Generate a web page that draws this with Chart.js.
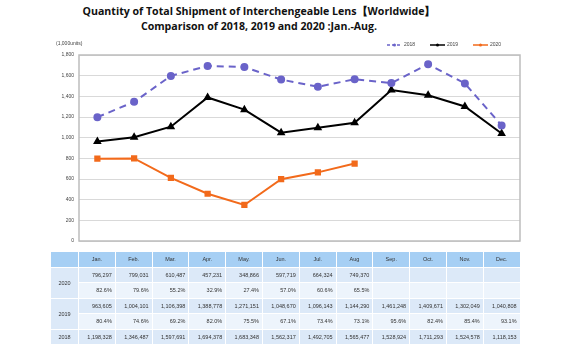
<!DOCTYPE html>
<html>
<head>
<meta charset="utf-8">
<script src="https://cdn.jsdelivr.net/npm/chart.js@4.4.0/dist/chart.umd.min.js"></script>
<style>
  body { margin: 0; background: #fff; width: 573px; height: 353px; overflow: hidden; position: relative; font-family: "Liberation Sans", Arial, sans-serif; }
  #title { position: absolute; top: 4px; left: 0; width: 518px; text-align: center; font-family: "Open Sans", sans-serif; font-weight: bold; font-size: 10.6px; line-height: 15px; color: #111; }
  #wrap { position: absolute; left: 0; top: 0; width: 573px; height: 252px; }
  #tbl { position: absolute; left: 50px; top: 251px; border-collapse: collapse; font-size: 5.5px; color: #333; table-layout: fixed; }
  #tbl td, #tbl th { border: 1px solid #fff; padding: 0 3px; height: 14.5px; font-weight: normal; }
  #tbl th { background: #a6cff4; text-align: center; }
  #tbl td { text-align: right; }
  #tbl td.yr { text-align: center; background: #dce9f8; }
  #tbl tr.v td { background: #dce9f8; }
  #tbl tr.p td { background: #edf4fc; }
</style>
</head>
<body>
<div id="title">Quantity of Total Shipment of Interchengeable Lens【Worldwide】<br>Comparison of 2018, 2019 and 2020 :Jan.-Aug.</div>
<div id="wrap"><canvas id="chart"></canvas></div>
<table id="tbl"></table>
<script>
const months = ['Jan.', 'Feb.', 'Mar.', 'Apr.', 'May.', 'Jun.', 'Jul.', 'Aug', 'Sep.', 'Oct.', 'Nov.', 'Dec.'];
const units2018 = [1198328, 1346487, 1597691, 1694378, 1683348, 1562317, 1492705, 1565477, 1528924, 1711293, 1524578, 1118153];
const units2019 = [963605, 1004101, 1106398, 1388778, 1271151, 1048670, 1096143, 1144290, 1461248, 1409671, 1302049, 1040808];
const units2020 = [796297, 799031, 610487, 457231, 348866, 597719, 664324, 749370];
const ratio2019 = ['80.4%', '74.6%', '69.2%', '82.0%', '75.5%', '67.1%', '73.4%', '73.1%', '95.6%', '82.4%', '85.4%', '93.1%'];
const ratio2020 = ['82.6%', '79.6%', '55.2%', '32.9%', '27.4%', '57.0%', '60.6%', '65.5%'];
const yTicks = [0, 200, 400, 600, 800, 1000, 1200, 1400, 1600, 1800];

const toK = (arr) => arr.map((v) => v / 1000);
const fmt = (v) => v.toLocaleString('en-US');

// table under the chart
const tbl = document.getElementById('tbl');
let html = '<colgroup><col style="width:28px">' + months.map(() => '<col style="width:36.8px">').join('') + '</colgroup>';
html += '<tr><th></th>' + months.map((m) => `<th>${m}</th>`).join('') + '</tr>';
const cells = (arr) => months.map((m, i) => `<td>${arr[i] !== undefined ? (typeof arr[i] === 'number' ? fmt(arr[i]) : arr[i]) : ''}</td>`).join('');
html += `<tr class="v"><td class="yr" rowspan="2">2020</td>${cells(units2020)}</tr>`;
html += `<tr class="p">${cells(ratio2020)}</tr>`;
html += `<tr class="v"><td class="yr" rowspan="2">2019</td>${cells(units2019)}</tr>`;
html += `<tr class="p">${cells(ratio2019)}</tr>`;
html += `<tr class="v"><td class="yr">2018</td>${cells(units2018)}</tr>`;
tbl.innerHTML = html;

const boxPlugin = {
  id: 'plotBox',
  afterDatasetsDraw(chart) {
    const { ctx, chartArea: a } = chart;
    ctx.save();
    ctx.strokeStyle = '#bdbdbd';
    ctx.lineWidth = 1.5;
    ctx.strokeRect(a.left, a.top, a.right - a.left, a.bottom - a.top);
    ctx.restore();
  },
  afterDraw(chart) {
    const { ctx } = chart;
    ctx.save();
    ctx.font = '5px "Liberation Sans", Arial';
    ctx.fillStyle = '#444';
    ctx.textBaseline = 'middle';
    ctx.fillText('(1,000units)', 56, 44);
    // legend: line with marker, like the source
    const slots = [387, 430, 473];
    chart.data.datasets.forEach((ds, i) => {
      const x = slots[i];
      const y = 45;
      ctx.strokeStyle = ds.borderColor;
      ctx.lineWidth = 1.5;
      ctx.setLineDash(ds.borderDash ? [3, 2] : []);
      ctx.beginPath();
      ctx.moveTo(x, y);
      ctx.lineTo(x + 15, y);
      ctx.stroke();
      ctx.setLineDash([]);
      ctx.fillStyle = ds.borderColor;
      ctx.beginPath();
      ctx.arc(x + 7.5, y, 1.5, 0, Math.PI * 2);
      ctx.fill();
      ctx.fillStyle = '#444';
      ctx.fillText(ds.label, x + 17, y);
    });
    ctx.restore();
  },
};

new Chart(document.getElementById('chart'), {
  type: 'line',
  plugins: [boxPlugin],
  data: {
    labels: months,
    datasets: [
      {
        label: '2018',
        data: toK(units2018),
        borderColor: '#6a63c9',
        backgroundColor: '#6a63c9',
        borderDash: [7, 5],
        borderWidth: 2,
        pointStyle: 'circle',
        pointRadius: 3,
        tension: 0,
      },
      {
        label: '2019',
        data: toK(units2019),
        borderColor: '#000000',
        backgroundColor: '#000000',
        borderWidth: 2,
        pointStyle: 'triangle',
        pointRadius: 3,
        tension: 0,
      },
      {
        label: '2020',
        data: toK(units2020),
        borderColor: '#f26a1b',
        backgroundColor: '#f26a1b',
        borderWidth: 2,
        pointStyle: 'rect',
        pointRadius: 3,
        tension: 0,
      },
    ],
  },
  options: {
    responsive: true,
    maintainAspectRatio: false,
    animation: false,
    layout: { padding: { left: 0, right: 53, top: 55, bottom: 3 } },
    plugins: {
      legend: { display: false },
      tooltip: { enabled: false },
    },
    scales: {
      x: {
        offset: true,
        ticks: { display: false },
        grid: { display: false },
        border: { display: false },
      },
      y: {
        min: 0,
        max: 1800,
        afterBuildTicks: (scale) => { scale.ticks = yTicks.map((v) => ({ value: v })); },
        afterFit: (scale) => { scale.width = 79; },
        ticks: {
          padding: 5,
          color: '#444',
          font: { size: 5, family: '"Liberation Sans", Arial' },
          callback: (v) => fmt(v),
        },
        grid: { color: '#d9d9d9', lineWidth: 1, drawTicks: false },
        border: { display: false },
      },
    },
  },
});
</script>
</body>
</html>
